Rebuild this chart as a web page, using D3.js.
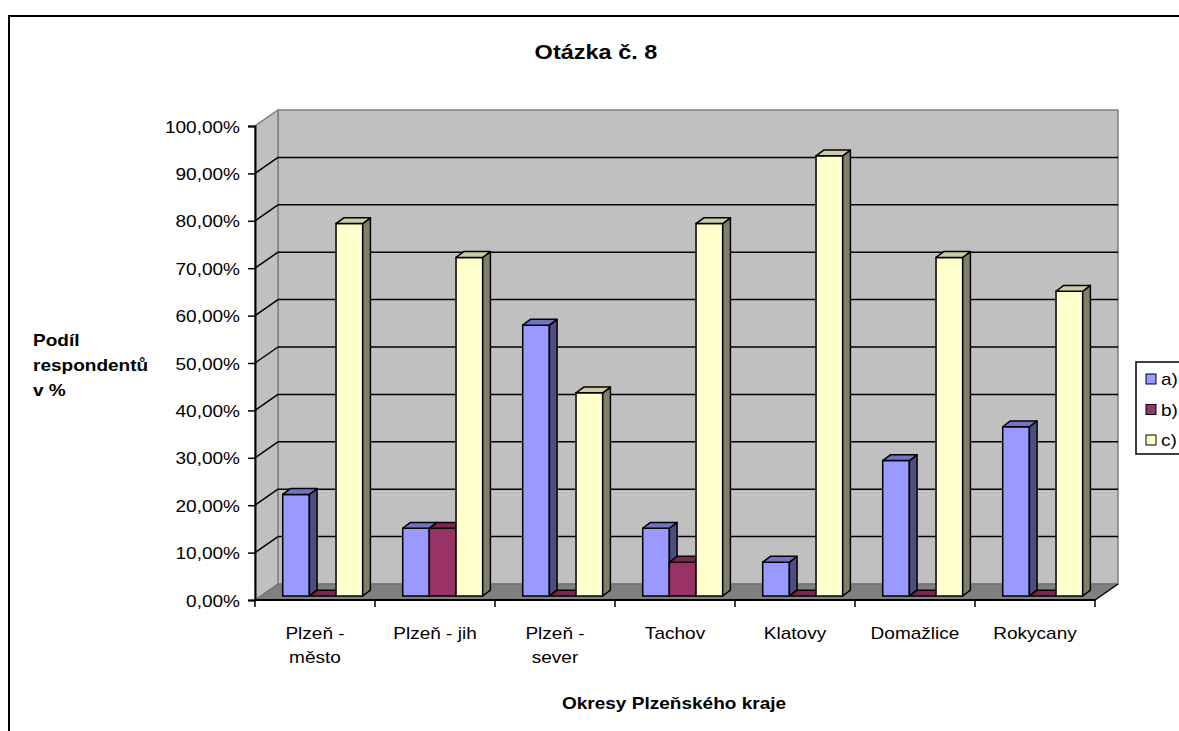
<!DOCTYPE html>
<html>
<head>
<meta charset="utf-8">
<script src="https://cdn.jsdelivr.net/npm/d3@7"></script>
<style>
  html, body { margin: 0; padding: 0; background: #fff; }
  svg { display: block; }
  text { font-family: Arial, "Liberation Sans", sans-serif; fill: #000; }
</style>
</head>
<body>
<svg id="chart" width="1179" height="731"></svg>
<script>
// Districts of the Plzeň region and answer shares (%) for question 8
const categories = ["Plzeň - město", "Plzeň - jih", "Plzeň - sever", "Tachov", "Klatovy", "Domažlice", "Rokycany"];
const categoryLines = [["Plzeň -", "město"], ["Plzeň - jih"], ["Plzeň -", "sever"], ["Tachov"], ["Klatovy"], ["Domažlice"], ["Rokycany"]];
const seriesNames = ["a)", "b)", "c)"];
const seriesA = [21.43, 14.29, 57.14, 14.29, 7.14, 28.57, 35.71];
const seriesB = [0, 14.29, 0, 7.14, 0, 0, 0];
const seriesC = [78.57, 71.43, 42.86, 78.57, 92.86, 71.43, 64.29];
const yTicks = [0, 10, 20, 30, 40, 50, 60, 70, 80, 90, 100];

const seriesValues = [seriesA, seriesB, seriesC];
const palette = [
  { front: "#9999FF", top: "#7373C0", side: "#4D4D80" },
  { front: "#993366", top: "#7A2852", side: "#4D1A33" },
  { front: "#FFFFCC", top: "#CCCCA3", side: "#808066" }
];

const svg = d3.select("#chart");
const SX = 1.12; // horizontal text stretch

// outer chart frame
svg.append("rect").attr("x", 9).attr("y", 16).attr("width", 1200).attr("height", 800)
  .attr("fill", "#fff").attr("stroke", "#000").attr("stroke-width", 2);

// plot geometry: front plane and depth offset of the back wall
const front = { left: 255, right: 1095, bottom: 600, top: 126 };
const depth = { dx: 23, dy: -16 };
const x = d3.scaleBand().domain(categories).range([front.left, front.right])
  .paddingInner(1 / 3).paddingOuter(1 / 6);
const xs = d3.scaleBand().domain(seriesNames).range([0, x.bandwidth()]);
const yFront = d3.scaleLinear().domain([0, 100]).range([front.bottom, front.top]);
const yBack = d3.scaleLinear().domain([0, 100]).range([front.bottom + depth.dy, front.top + depth.dy]);
const yBar = d3.scaleLinear().domain([0, 100]).range([596, 596 - 474]);
const barOff = { dx: 7.7, dy: 0 };
const barDepth = { dx: 7.7, dy: -5.8 };

const plot = svg.append("g");
const backL = front.left + depth.dx, backR = front.right + depth.dx;

// back wall
plot.append("rect").attr("x", backL).attr("y", yBack(100))
  .attr("width", backR - backL).attr("height", yBack(0) - yBack(100))
  .attr("fill", "#C0C0C0").attr("stroke", "#808080").attr("stroke-width", 1.5);
// side wall
plot.append("path")
  .attr("d", `M${front.left},${yFront(0)}L${front.left},${yFront(100)}L${backL},${yBack(100)}L${backL},${yBack(0)}Z`)
  .attr("fill", "#C0C0C0").attr("stroke", "#808080").attr("stroke-width", 1.5);
// floor
plot.append("path")
  .attr("d", `M${front.left},${yFront(0)}L${front.right},${yFront(0)}L${backR},${yBack(0)}L${backL},${yBack(0)}Z`)
  .attr("fill", "#808080").attr("stroke", "#6a6a6a").attr("stroke-width", 1);

// gridlines on back wall and side wall
const gridVals = yTicks.filter(v => v > 0 && v < 100);
plot.selectAll(".grid").data(gridVals).join("line").attr("class", "grid")
  .attr("x1", backL).attr("x2", backR)
  .attr("y1", d => yBack(d)).attr("y2", d => yBack(d))
  .attr("stroke", "#000").attr("stroke-width", 1.5);
plot.selectAll(".gridSide").data(gridVals).join("line").attr("class", "gridSide")
  .attr("x1", front.left).attr("x2", backL)
  .attr("y1", d => yFront(d)).attr("y2", d => yBack(d))
  .attr("stroke", "#000").attr("stroke-width", 1.5);

// 3D bars
const bars = plot.append("g");
categories.forEach((cat, i) => {
  seriesNames.forEach((s, j) => {
    const v = seriesValues[j][i];
    const c = palette[j];
    const x0 = x(cat) + xs(s) + barOff.dx;
    const x1 = x0 + xs.bandwidth();
    const yb = yBar(0), yt = yBar(v);
    const g = bars.append("g");
    if (v > 0) {
      g.append("path").attr("d", `M${x0},${yb}L${x0},${yt}L${x1},${yt}L${x1},${yb}Z`)
        .attr("fill", c.front).attr("stroke", "#000").attr("stroke-width", 1.5);
      g.append("path")
        .attr("d", `M${x1},${yb}L${x1},${yt}L${x1 + barDepth.dx},${yt + barDepth.dy}L${x1 + barDepth.dx},${yb + barDepth.dy}Z`)
        .attr("fill", c.side).attr("stroke", "#000").attr("stroke-width", 1.5).attr("stroke-linejoin", "round");
    }
    g.append("path")
      .attr("d", `M${x0},${yt}L${x1},${yt}L${x1 + barDepth.dx},${yt + barDepth.dy}L${x0 + barDepth.dx},${yt + barDepth.dy}Z`)
      .attr("fill", c.top).attr("stroke", "#000").attr("stroke-width", 1.5).attr("stroke-linejoin", "round");
  });
});

// value axis
const yAxis = svg.append("g").attr("transform", `translate(${front.left},0)`)
  .call(d3.axisLeft(yFront).tickValues(yTicks).tickSize(7)
    .tickFormat(d => d3.format(".2f")(d).replace(".", ",") + "%"));
yAxis.select(".domain").attr("stroke", "#000").attr("stroke-width", 2);
yAxis.selectAll(".tick line").attr("stroke", "#000").attr("stroke-width", 1.5);
yAxis.selectAll(".tick text")
  .attr("x", null).attr("dy", null)
  .attr("transform", "translate(-15,6) scale(" + SX + ",1)")
  .attr("font-size", 17).attr("text-anchor", "end")
  .style("font-family", "Arial, 'Liberation Sans', sans-serif").style("fill", "#000");

// category axis
const xAxisG = svg.append("g");
xAxisG.append("line").attr("x1", front.left).attr("x2", front.right)
  .attr("y1", front.bottom).attr("y2", front.bottom).attr("stroke", "#000").attr("stroke-width", 2);
xAxisG.append("line").attr("x1", front.right).attr("x2", backR)
  .attr("y1", front.bottom).attr("y2", yBack(0)).attr("stroke", "#000").attr("stroke-width", 1.5);
const bounds = categories.map(c => x(c) - x.step() * x.paddingInner() / 2).concat([front.right]);
xAxisG.selectAll(".xtick").data(bounds).join("line").attr("class", "xtick")
  .attr("x1", d => d).attr("x2", d => d)
  .attr("y1", front.bottom).attr("y2", front.bottom + 7)
  .attr("stroke", "#000").attr("stroke-width", 1.5);
categories.forEach((cat, i) => {
  const cx = x(cat) + x.bandwidth() / 2;
  categoryLines[i].forEach((line, k) => {
    xAxisG.append("text")
      .attr("transform", `translate(${cx},${639 + k * 24}) scale(${SX},1)`)
      .attr("text-anchor", "middle").attr("font-size", 17).text(line);
  });
});

// titles
svg.append("text").attr("transform", `translate(596,59) scale(${SX},1)`)
  .attr("text-anchor", "middle").attr("font-size", 21).attr("font-weight", "bold").text("Otázka č. 8");
svg.append("text").attr("transform", `translate(674,709) scale(${SX},1)`)
  .attr("text-anchor", "middle").attr("font-size", 17).attr("font-weight", "bold").text("Okresy Plzeňského kraje");
["Podíl", "respondentů", "v %"].forEach((t, k) => {
  svg.append("text").attr("transform", `translate(33,${346 + k * 25}) scale(${SX},1)`)
    .attr("font-size", 17).attr("font-weight", "bold").text(t);
});

// legend
const legend = svg.append("g").attr("transform", "translate(1136,362)");
legend.append("rect").attr("width", 80).attr("height", 92)
  .attr("fill", "#fff").attr("stroke", "#000").attr("stroke-width", 1.5);
seriesNames.forEach((s, j) => {
  const ly = 17 + j * 30.5;
  legend.append("rect").attr("x", 10).attr("y", ly - 5).attr("width", 10).attr("height", 10)
    .attr("fill", palette[j].front).attr("stroke", "#000").attr("stroke-width", 1);
  legend.append("text").attr("transform", `translate(25,${ly + 6}) scale(${SX},1)`)
    .attr("font-size", 17).text(s);
});
</script>
</body>
</html>
